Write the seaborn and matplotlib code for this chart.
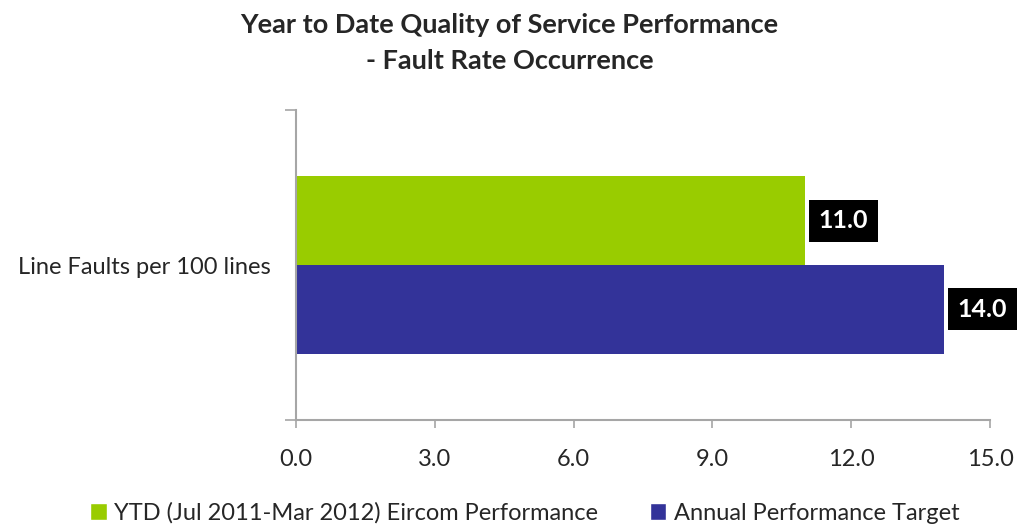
import seaborn as sns
import pandas as pd
import matplotlib.pyplot as plt
from matplotlib.patches import Patch

# values
category = ["Line Faults per 100 lines"]
series = ["YTD (Jul 2011-Mar 2012) Eircom Performance", "Annual Performance Target"]
values = [11.0, 14.0]
colors = ["#99cc00", "#333399"]
x_ticks = [0.0, 3.0, 6.0, 9.0, 12.0, 15.0]

df = pd.DataFrame({"category": category * len(series), "series": series, "value": values})

sns.set_style("white")
plt.rcParams["font.family"] = ["Lato", "DejaVu Sans"]

fig = plt.figure(figsize=(10.19, 5.24), dpi=100)
ax = fig.add_axes([0.2905, 0.1985, 0.681, 0.5915])

sns.barplot(data=df, y="category", x="value", hue="series", palette=colors,
            orient="h", width=0.8, saturation=1, linewidth=0, ax=ax, legend=False)

ax.set_xlim(0, 15)
ax.set_ylim(0.7, -0.7)
ax.set_xticks(x_ticks)
ax.set_xticklabels([f"{t:.1f}" for t in x_ticks], fontsize=17)
ax.set_yticks([0])
ax.set_yticklabels(category, fontsize=17)
ax.set_yticks([-0.7, 0.7], minor=True)
ax.tick_params(axis="y", which="major", length=0, pad=18)
ax.tick_params(axis="y", which="minor", length=8, width=1.2, color="#a6a6a6", left=True)
ax.tick_params(axis="x", length=6, width=1.2, color="#a6a6a6", bottom=True, pad=15)
ax.set_xlabel("")
ax.set_ylabel("")

for side in ["top", "right"]:
    ax.spines[side].set_visible(False)
for side in ["left", "bottom"]:
    ax.spines[side].set_color("#a6a6a6")
    ax.spines[side].set_linewidth(1.5)

# value boxes next to each bar
for bar, v in zip(ax.patches, values):
    y = bar.get_y() + bar.get_height() / 2
    ax.text(v + 0.3, y, f"{v:.1f}", color="white", fontsize=18, fontweight="bold",
            va="center", ha="left",
            bbox=dict(boxstyle="square,pad=0.38", facecolor="black", edgecolor="none"))

fig.suptitle("Year to Date Quality of Service Performance\n- Fault Rate Occurrence",
             fontsize=19.5, fontweight="bold", y=0.975, linespacing=1.6)

handles = [Patch(facecolor=c, label=s) for c, s in zip(colors, series)]
fig.legend(handles=handles, loc="lower center", ncol=2, frameon=False, fontsize=17,
           bbox_to_anchor=(0.515, -0.04), handlelength=0.7, handleheight=0.7,
           handletextpad=0.3, columnspacing=2.2)

fig.savefig("out.png", dpi=100)
